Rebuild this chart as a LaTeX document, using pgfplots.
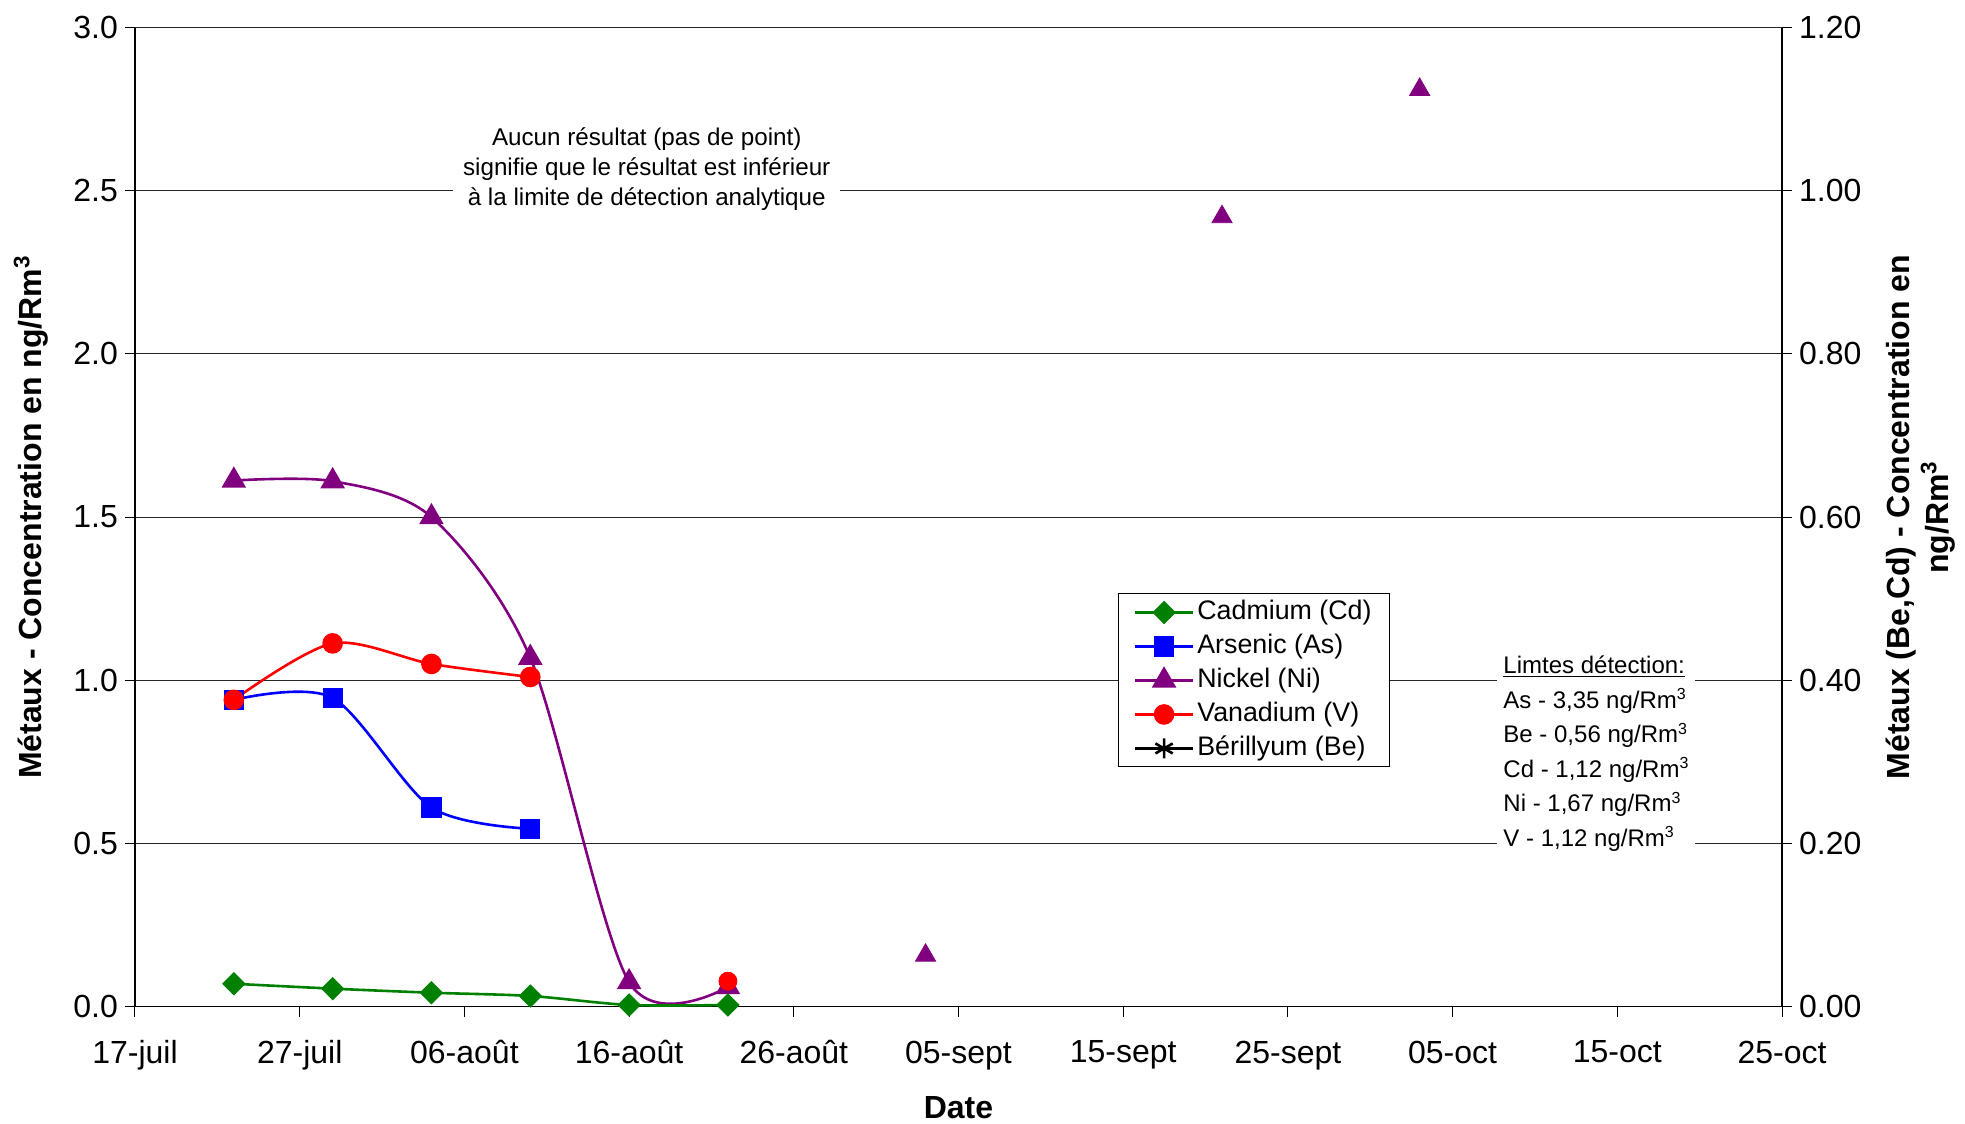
\documentclass[border=0pt]{standalone}
\usepackage{pgfplots}
\pgfplotsset{compat=1.18}
\usepackage{fontspec}
\setmainfont{Liberation Sans}
\definecolor{cdgreen}{RGB}{0,128,0}
\definecolor{asblue}{RGB}{0,0,255}
\definecolor{nipurple}{RGB}{128,0,128}
\definecolor{vred}{RGB}{255,0,0}

\begin{document}
\begin{tikzpicture}
\path[use as bounding box] (-67.5pt,-58.5pt) rectangle (915pt,503.3pt);
\pgfplotsset{
  every axis/.append style={
    scale only axis, width=823.5pt, height=489.5pt,
    xmin=0, xmax=100, at={(0,0)}, anchor=south west,
    tick align=outside, major tick length=5pt,
    tick style={black, line width=0.5pt},
    axis line style={black, line width=0.6pt},
    /pgf/number format/assume math mode=true,
    tick label style={font=\fontsize{16}{19}\selectfont},
    label style={font=\bfseries\fontsize{16}{19.5}\selectfont},
    legend image code/.code={\draw[mark repeat=2, mark phase=2, #1] plot coordinates {(0pt,0pt) (14.5pt,0pt) (29pt,0pt)};},
  }
}
\begin{axis}[
  axis x line*=bottom, axis y line*=left,
  ymin=0, ymax=3, ytick={0,0.5,1,1.5,2,2.5,3},
  yticklabel style={/pgf/number format/.cd, fixed, fixed zerofill, precision=1},
  xtick={0,10,20,30,40,50,60,70,80,90,100},
  xticklabels={17-juil,27-juil,06-août,16-août,26-août,05-sept,15-sept,25-sept,05-oct,15-oct,25-oct},
  xticklabel style={yshift=-8.5pt},
  ymajorgrids, major grid style={black!85, line width=0.5pt},
  xlabel={Date}, xlabel style={at={(rel axis cs:0.5,-0.1032)}, anchor=center},
  ylabel={Métaux - Concentration en ng/Rm\textsuperscript{3}},
  ylabel style={at={(rel axis cs:-0.063,0.5)}, anchor=center},
]
% Arsenic
\addplot[asblue, line width=1.3pt, smooth, mark=square*, mark size=4.4pt, mark options={solid}]
  coordinates {(6,0.94) (12,0.946) (18,0.61) (24,0.545)};
% Nickel
\addplot[nipurple, line width=1.3pt, smooth, mark=triangle*, mark size=5.8pt, mark options={solid}]
  coordinates {(6,1.612) (12,1.61) (18,1.50) (24,1.069) (30,0.075) (36,0.06)};
\addplot[nipurple, only marks, mark=triangle*, mark size=5.8pt]
  coordinates {(48,0.157) (66,2.42) (78,2.81)};
% Vanadium
\addplot[vred, line width=1.3pt, smooth, mark=*, mark size=4.5pt, mark options={solid}]
  coordinates {(6,0.94) (12,1.113) (18,1.05) (24,1.01)};
\addplot[vred, only marks, mark=*, mark size=4.5pt]
  coordinates {(36,0.078)};
% annotations
\node[fill=white, align=center, inner xsep=5pt, inner ysep=2pt, font=\fontsize{12.1}{15}\selectfont]
  at (axis cs:31.07,2.566) {Aucun résultat (pas de point)\\signifie que le résultat est inférieur\\à la limite de détection analytique};
\node[fill=white, align=left, anchor=west, inner xsep=3pt, inner ysep=2pt, font=\fontsize{12}{17.3}\selectfont]
  at (axis cs:82.7,0.775) {\underline{Limtes détection:}\\As - 3,35 ng/Rm\textsuperscript{3}\\Be - 0,56 ng/Rm\textsuperscript{3}\\Cd - 1,12 ng/Rm\textsuperscript{3}\\Ni - 1,67 ng/Rm\textsuperscript{3}\\V - 1,12 ng/Rm\textsuperscript{3}};
\end{axis}

\begin{axis}[
  axis x line=none, axis y line*=right,
  ymin=0, ymax=1.2, ytick={0,0.2,0.4,0.6,0.8,1.0,1.2},
  yticklabel style={/pgf/number format/.cd, fixed, fixed zerofill, precision=2},
  ylabel={Métaux (Be,Cd) - Concentration en\\ng/Rm\textsuperscript{3}},
  ylabel style={at={(rel axis cs:1.0844,0.5)}, anchor=center, align=center},
  legend cell align=left,
  legend style={at={(rel axis cs:0.597,0.422)}, anchor=north west, draw=black, line width=0.5pt, fill=white,
    font=\fontsize{13.4}{15}\selectfont, inner xsep=7.5pt, inner ysep=1pt, row sep=0.5pt,
    nodes={inner xsep=1.5pt, inner ysep=1pt, text height=11pt, text depth=3.5pt}},
]
\addplot[cdgreen, line width=1.3pt, smooth, mark=square*, mark size=3.5pt, mark options={solid, rotate=45}]
  coordinates {(6,0.028) (12,0.022) (18,0.017) (24,0.013) (30,0.002) (36,0.002)};
\addlegendentry{Cadmium (Cd)}
\addlegendimage{asblue, line width=1.3pt, mark=square*, mark size=4.4pt}
\addlegendentry{Arsenic (As)}
\addlegendimage{nipurple, line width=1.3pt, mark=triangle*, mark size=5.8pt}
\addlegendentry{Nickel (Ni)}
\addlegendimage{vred, line width=1.3pt, mark=*, mark size=4.5pt}
\addlegendentry{Vanadium (V)}
\addlegendimage{black, line width=1.3pt, mark=asterisk, mark size=5pt}
\addlegendentry{Bérillyum (Be)}
\end{axis}
\end{tikzpicture}
\end{document}
